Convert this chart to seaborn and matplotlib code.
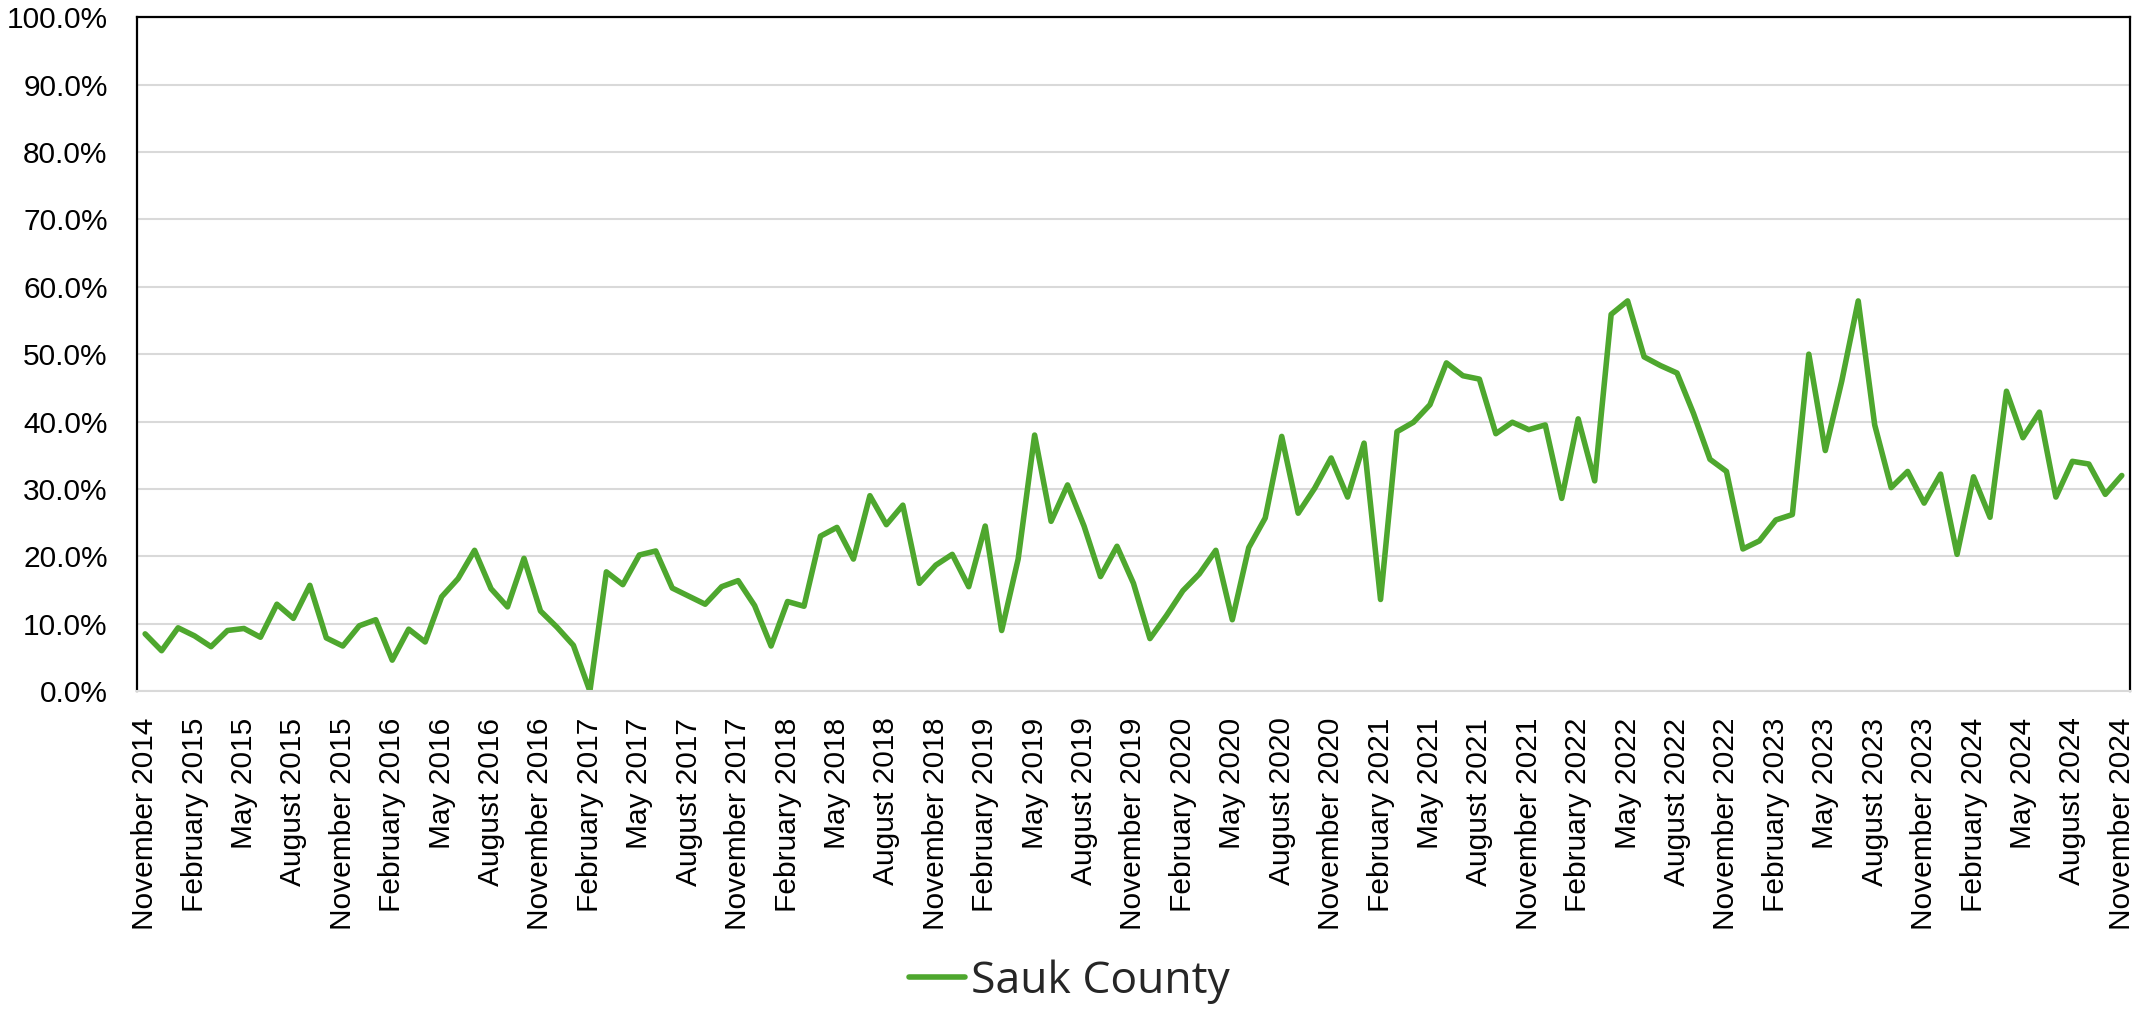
import numpy as np
import pandas as pd
import matplotlib
matplotlib.use("Agg")
import matplotlib.pyplot as plt
import seaborn as sns
from matplotlib.lines import Line2D

series_name = "Sauk County"
start_month = "2014-11"
values = [
    8.5, 6.0, 9.4, 8.2, 6.6, 9.0, 9.3, 8.0, 12.9, 10.8,
    15.7, 7.9, 6.7, 9.7, 10.6, 4.6, 9.2, 7.3, 14.0, 16.7,
    20.9, 15.2, 12.5, 19.7, 11.9, 9.5, 6.8, 0.0, 17.7, 15.8,
    20.2, 20.8, 15.3, 14.1, 12.9, 15.5, 16.4, 12.7, 6.7, 13.3,
    12.6, 23.0, 24.3, 19.6, 29.0, 24.7, 27.6, 16.0, 18.7, 20.3,
    15.5, 24.5, 9.0, 19.6, 38.0, 25.2, 30.6, 24.5, 17.0, 21.5,
    16.0, 7.8, 11.2, 14.9, 17.4, 20.9, 10.6, 21.3, 25.7, 37.8,
    26.4, 30.1, 34.6, 28.8, 36.8, 13.6, 38.5, 39.9, 42.5, 48.7,
    46.8, 46.3, 38.2, 39.9, 38.8, 39.5, 28.6, 40.4, 31.2, 55.9,
    57.9, 49.6, 48.3, 47.2, 41.2, 34.4, 32.6, 21.1, 22.3, 25.4,
    26.2, 50.0, 35.7, 46.0, 57.9, 39.5, 30.2, 32.6, 27.9, 32.2,
    20.3, 31.8, 25.8, 44.5, 37.6, 41.4, 28.8, 34.1, 33.7, 29.2,
    32.0,
]
months = pd.period_range(start_month, periods=len(values), freq="M")
month_labels = [m.strftime("%B %Y") for m in months]
y_ticks = [0, 10, 20, 30, 40, 50, 60, 70, 80, 90, 100]

df = pd.DataFrame({
    "idx": np.arange(len(values)),
    "value": np.array(values) / 100.0,
    "series": series_name,
})

sns.set_theme(style="white")
plt.rcParams["font.family"] = ["Liberation Sans", "DejaVu Sans"]

fig = plt.figure(figsize=(21.39, 10.09), dpi=100)
ax = fig.add_axes([0.064, 0.315, 0.9318, 0.668])

green = "#4EA72E"
sns.lineplot(data=df, x="idx", y="value", hue="series", palette=[green],
             linewidth=4.0, ax=ax, legend=False, solid_capstyle="round",
             solid_joinstyle="round")

ax.set_xlim(-0.5, len(values) - 0.5)
ax.set_ylim(0, 1.0)
ax.set_yticks([t / 100 for t in y_ticks])
ax.set_yticklabels([f"{t:.1f}%" for t in y_ticks])
tick_idx = list(range(0, len(values), 3))
ax.set_xticks(tick_idx)
ax.set_xticklabels([month_labels[i] for i in tick_idx], rotation=90)
ax.tick_params(axis="y", labelsize=21.5, pad=21, length=0, colors="black")
ax.tick_params(axis="x", labelsize=21.5, pad=19, length=0, colors="black")
ax.set_xlabel("")
ax.set_ylabel("")

ax.grid(axis="y", color="#d9d9d9", linewidth=1.5)
ax.grid(axis="x", visible=False)
ax.set_axisbelow(True)
for side in ["left", "top", "right"]:
    ax.spines[side].set_color("black")
    ax.spines[side].set_linewidth(1.6)
ax.spines["bottom"].set_color("#d9d9d9")
ax.spines["bottom"].set_linewidth(1.5)

handle = Line2D([0], [0], color=green, linewidth=4.0, solid_capstyle="round")
fig.legend([handle], [series_name], loc="center", bbox_to_anchor=(0.5, 0.027),
           frameon=False, handlelength=1.25, handletextpad=0.15,
           prop={"family": ["Open Sans", "DejaVu Sans"], "size": 32})

fig.savefig("out.png", dpi=100)
